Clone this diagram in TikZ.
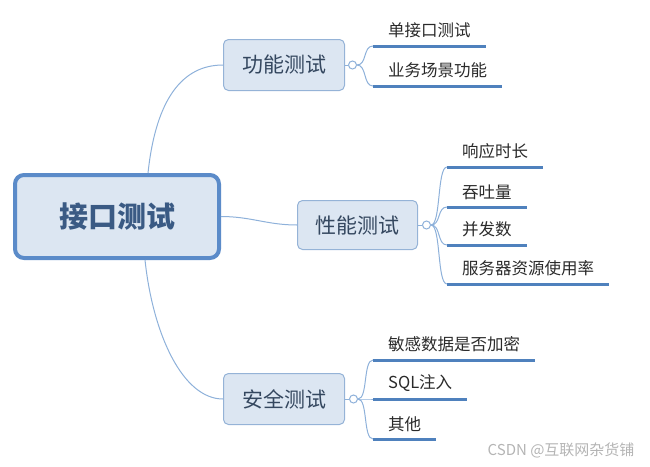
\documentclass[tikz,border=0pt]{standalone}
\usepackage{fontspec}
\newfontfamily\cjk{Noto Sans CJK SC}
\usetikzlibrary{positioning}

\definecolor{boxfill}{HTML}{DCE6F2}
\definecolor{boxline}{HTML}{95B3D7}
\definecolor{rootline}{HTML}{5B8BC9}
\definecolor{roottext}{HTML}{3A5A84}
\definecolor{topictext}{HTML}{34475F}
\definecolor{leaftext}{HTML}{2A2A2A}
\definecolor{branchcol}{HTML}{8EB1DA}
\definecolor{undercol}{HTML}{4F81BD}
\definecolor{markcol}{HTML}{B4B4B4}

\tikzset{
  topic/.style={draw=boxline,fill=boxfill,line width=1pt,rounded corners=5pt,
    minimum width=121pt,minimum height=51pt,inner sep=0pt,
    font=\cjk\fontsize{21}{21}\selectfont,text=topictext},
  knot/.style={circle,draw=branchcol,fill=white,line width=1pt,minimum size=8pt,inner sep=0pt},
  leaf/.style={anchor=south west,font=\cjk\fontsize{16.5}{16.5}\selectfont,text=leaftext,
    inner xsep=15pt,inner ysep=7.5pt},
  branch/.style={draw=branchcol,line width=1pt},
  under/.style={draw=undercol,line width=3pt},
}

\begin{document}
\begin{tikzpicture}[x=1pt,y=-1pt]
\useasboundingbox (0,0) rectangle (650,466);

% central topic
\node[draw=rootline,fill=boxfill,line width=4pt,rounded corners=9pt,
  minimum width=204pt,minimum height=83pt,
  font=\cjk\bfseries\fontsize{29}{29}\selectfont,text=roottext] (root) at (117,216.5) {接口测试};

% main topics
\node[topic] (fun) at (284,65) {功能测试};
\node[topic,minimum width=120pt,minimum height=49pt] (perf) at (357.5,225) {性能测试};
\node[topic] (sec) at (284,399) {安全测试};

\node[knot,right=3pt of fun] (funC) {};
\node[knot,right=4pt of perf] (perfC) {};
\node[knot,right=4pt of sec] (secC) {};

\draw[branch] ([xshift=31pt]root.north) .. controls +(8,-75) and +(-40,0) .. (fun.west);
\draw[branch] (root.east) .. controls +(30,0) and +(-30,0) .. (perf.west);
\draw[branch] ([xshift=28pt]root.south) .. controls +(8,75) and +(-40,0) .. (sec.west);

\draw[branch] (fun.east) -- (funC.west);
\draw[branch] (perf.east) -- (perfC.west);
\draw[branch] (sec.east) -- (secC.west);

% subtopics
\foreach \n/\y/\t in {f1/46/单接口测试, f2/86/业务场景功能}{
  \node[leaf] (\n) at (373,\y) {\t};
  \draw[branch] (funC.east) .. controls +(10,0) and +(-10,0) .. (\n.south west);
  \draw[under] (\n.south west) -- (\n.south east);
}
\foreach \n/\y/\t in {p1/167/响应时长, p2/207/吞吐量, p3/245/并发数, p4/284/服务器资源使用率}{
  \node[leaf] (\n) at (447,\y) {\t};
  \draw[branch] (perfC.east) .. controls +(10,0) and +(-10,0) .. (\n.south west);
  \draw[under] (\n.south west) -- (\n.south east);
}
\foreach \n/\y/\t in {s1/360/敏感数据是否加密, s2/399/SQL注入, s3/439/其他}{
  \node[leaf] (\n) at (373,\y) {\t};
  \draw[branch] (secC.east) .. controls +(10,0) and +(-10,0) .. (\n.south west);
  \draw[under] (\n.south west) -- (\n.south east);
}

\node[anchor=east,font=\cjk\fontsize{15}{15}\selectfont,text=markcol] (mark) at (638,450) {CSDN @互联网杂货铺};
\end{tikzpicture}
\end{document}
